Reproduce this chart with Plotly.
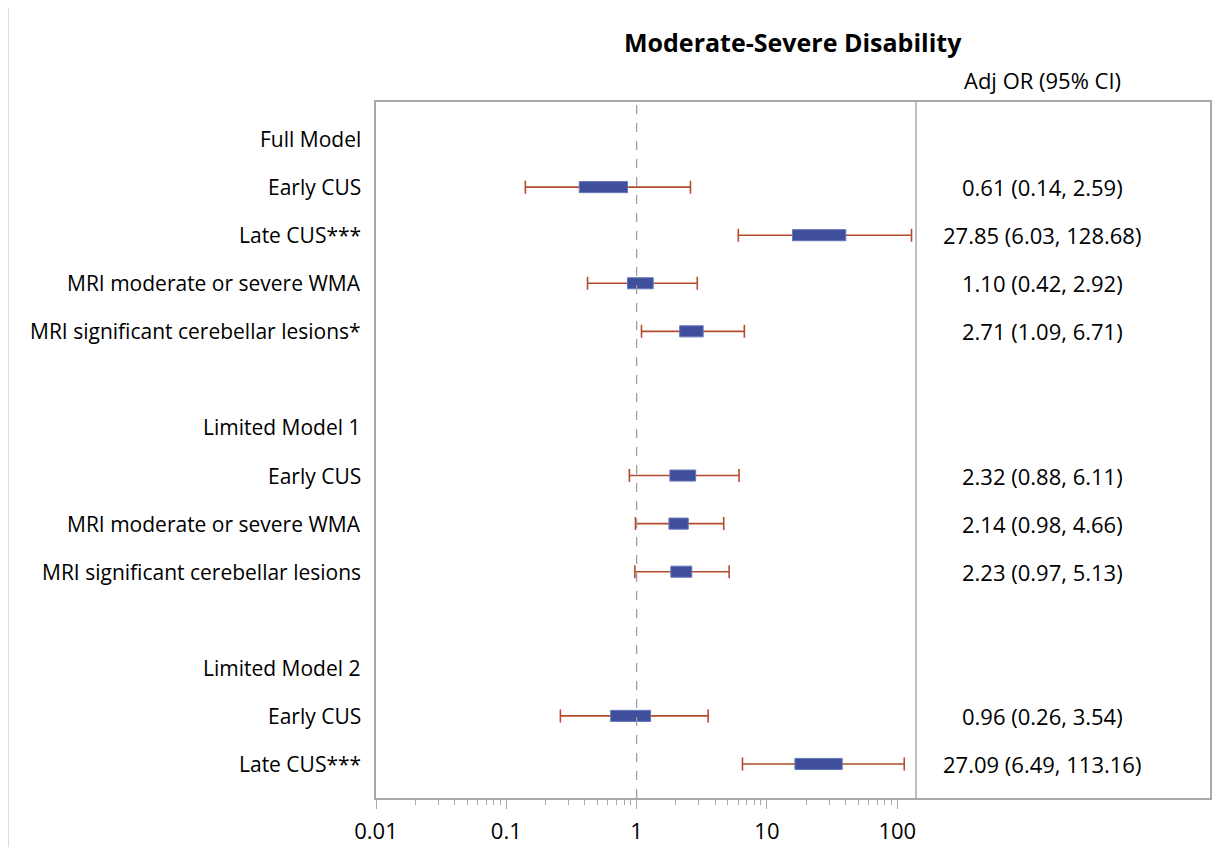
import plotly.graph_objects as go

# ---- data ----
row_labels = ["Full Model", "Early CUS", "Late CUS***", "MRI moderate or severe WMA",
              "MRI significant cerebellar lesions*", "",
              "Limited Model 1", "Early CUS", "MRI moderate or severe WMA",
              "MRI significant cerebellar lesions", "",
              "Limited Model 2", "Early CUS", "Late CUS***"]
# estimates (None for header / spacer rows)
odds_ratio = [None, 0.61, 27.85, 1.10, 2.71, None, None, 2.32, 2.14, 2.23, None, None, 0.96, 27.09]
ci_low     = [None, 0.14, 6.03, 0.42, 1.09, None, None, 0.88, 0.98, 0.97, None, None, 0.26, 6.49]
ci_high    = [None, 2.59, 128.68, 2.92, 6.71, None, None, 6.11, 4.66, 5.13, None, None, 3.54, 113.16]
box_low    = [None, 0.363, 15.7, 0.851, 2.14, None, None, 1.80, 1.77, 1.83, None, None, 0.632, 16.4]
box_high   = [None, 0.851, 40.3, 1.34, 3.24, None, None, 2.84, 2.49, 2.65, None, None, 1.28, 37.8]
ci_text    = ["", "0.61 (0.14, 2.59)", "27.85 (6.03, 128.68)", "1.10 (0.42, 2.92)", "2.71 (1.09, 6.71)", "",
              "", "2.32 (0.88, 6.11)", "2.14 (0.98, 4.66)", "2.23 (0.97, 5.13)", "",
              "", "0.96 (0.26, 3.54)", "27.09 (6.49, 113.16)"]
major_ticks = [0.01, 0.1, 1, 10, 100]
major_labels = ["0.01", "0.1", "1", "10", "100"]
minor_ticks = [m * d for d in [0.01, 0.1, 1, 10] for m in range(2, 10)]

title_text = "Moderate-Severe Disability"
col_header = "Adj OR (95% CI)"

FONT = "Open Sans"
WHISK = "#B24C2C"
BOXC = "#3F4F9C"
FRAME = "#A8A8A8"

# page geometry (the page body adds an 8px margin)
OFF = 8
PL, PR, PT, PB = 376, 1210, 102, 798      # plot area in window pixels
W, H = 1230 - OFF, 855 - 2 * OFF
PW, PH = PR - PL, PB - PT


def px(xw):
    return (xw - PL) / PW


def py(yw):
    return (PB - yw) / PH


idx = [i for i, v in enumerate(odds_ratio) if v is not None]

fig = go.Figure()

# whiskers (error bars around invisible point at the estimate)
fig.add_trace(go.Scatter(
    x=[odds_ratio[i] for i in idx], y=idx, mode="markers",
    marker=dict(size=1, color="rgba(0,0,0,0)"),
    error_x=dict(type="data", symmetric=False,
                 array=[ci_high[i] - odds_ratio[i] for i in idx],
                 arrayminus=[odds_ratio[i] - ci_low[i] for i in idx],
                 color=WHISK, thickness=1.6, width=6.5),
    hoverinfo="skip", showlegend=False))

# boxes as filled polygons (drawn above whiskers)
h = 0.115
bx, by = [], []
for i in idx:
    bx += [box_low[i], box_high[i], box_high[i], box_low[i], box_low[i], None]
    by += [i - h, i - h, i + h, i + h, i - h, None]
fig.add_trace(go.Scatter(x=bx, y=by, mode="lines", fill="toself",
                         fillcolor=BOXC, line=dict(color="#6676B8", width=1),
                         hoverinfo="skip", showlegend=False))

# reference line at OR = 1
fig.add_shape(type="line", xref="x", yref="paper", x0=1, x1=1, y0=0, y1=1,
              line=dict(color="#9A9A9A", width=1.2, dash="dash"), layer="above")

# separator between plot and table column
fig.add_shape(type="line", xref="paper", yref="paper", x0=px(916), x1=px(916),
              y0=0, y1=1, line=dict(color=FRAME, width=1.5))

# outer frame
fig.add_shape(type="rect", xref="paper", yref="paper",
              x0=px(8), x1=px(1228), y0=py(880), y1=py(7),
              line=dict(color="#DCDCDC", width=2), layer="below")

anns = []
for i, lab in enumerate(row_labels):
    if lab:
        anns.append(dict(x=0, xref="paper", xshift=-13, y=i, yref="y", text=lab,
                         xanchor="right", yanchor="middle", showarrow=False,
                         font=dict(family=FONT, size=21, color="#000")))
    if ci_text[i]:
        anns.append(dict(x=px(1042), xref="paper", y=i, yref="y", text=ci_text[i],
                         xanchor="center", yanchor="middle", showarrow=False,
                         font=dict(family=FONT, size=22, color="#000")))
anns.append(dict(x=px(1042), xref="paper", y=py(80), yref="paper",
                 text=col_header, xanchor="center", yanchor="middle", showarrow=False,
                 font=dict(family=FONT, size=22, color="#000")))
anns.append(dict(x=0.5, xref="paper", y=py(42), yref="paper",
                 text="<b>" + title_text + "</b>", xanchor="center", yanchor="middle",
                 showarrow=False, font=dict(family=FONT, size=25, color="#000")))

fig.update_layout(
    width=W, height=H,
    margin=dict(l=PL - OFF, r=1230 - PR, t=PT - OFF, b=OFF + H - PB, autoexpand=False),
    paper_bgcolor="white", plot_bgcolor="white",
    annotations=anns, showlegend=False,
    font=dict(family=FONT, size=21, color="#000"),
    xaxis=dict(type="log", range=[-2, 4.40], showgrid=False, zeroline=False,
               automargin=False,
               showline=True, linecolor=FRAME, linewidth=1.5, mirror=True,
               tickmode="array", tickvals=major_ticks, ticktext=major_labels,
               ticks="outside", ticklen=9, tickcolor=FRAME, tickwidth=1.2,
               ticklabelstandoff=4,
               tickfont=dict(family=FONT, size=22, color="#000"),
               minor=dict(tickmode="array", tickvals=minor_ticks, ticks="outside",
                          ticklen=5, tickcolor=FRAME, tickwidth=1, showgrid=False)),
    yaxis=dict(range=[13.708, -0.771], showgrid=False, zeroline=False,
               automargin=False,
               showline=True, linecolor=FRAME, linewidth=1.5, mirror=True,
               showticklabels=False, ticks=""),
)

fig.write_html("out.html")
